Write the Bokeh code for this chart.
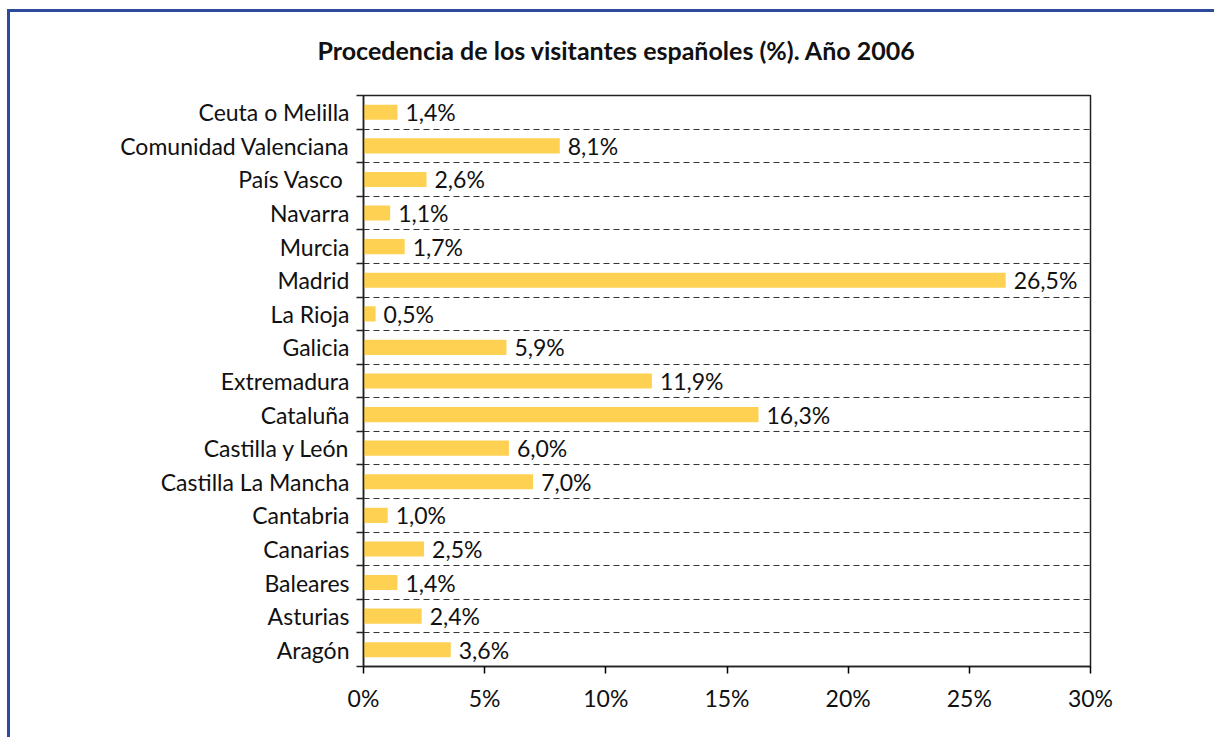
from bokeh.plotting import figure
from bokeh.models import FixedTicker, Range1d, ColumnDataSource, LabelSet, Title
from bokeh.core.properties import value
from bokeh.embed import file_html
from bokeh.resources import INLINE

regions = ["Aragón", "Asturias", "Baleares", "Canarias", "Cantabria",
           "Castilla La Mancha", "Castilla y León", "Cataluña", "Extremadura",
           "Galicia", "La Rioja", "Madrid", "Murcia", "Navarra", "País Vasco ",
           "Comunidad Valenciana", "Ceuta o Melilla"]
shares = [3.6, 2.4, 1.4, 2.5, 1.0, 7.0, 6.0, 16.3, 11.9, 5.9, 0.5, 26.5,
          1.7, 1.1, 2.6, 8.1, 1.4]
x_ticks = [0, 5, 10, 15, 20, 25, 30]
x_tick_labels = ["0%", "5%", "10%", "15%", "20%", "25%", "30%"]
title_text = "Procedencia de los visitantes españoles (%). Año 2006"

FONT = "Lato"
TXT = "#111111"
BLUE = "#2D4B9C"
n = len(regions)
pos = list(range(n))
labels = [f"{v:.1f}".replace(".", ",") + "%" for v in shares]

src = ColumnDataSource(dict(y=pos, v=shares, lab=labels))

bg = (f"linear-gradient({BLUE},{BLUE}) 7px 9px / 3px 100% no-repeat, "
      f"linear-gradient({BLUE},{BLUE}) 7px 9px / 100% 3px no-repeat")

p = figure(width=1214, height=737, output_backend="svg", toolbar_location=None,
           x_range=Range1d(0, 30), y_range=Range1d(-0.5, n - 0.5),
           min_border_left=363, min_border_right=124, min_border_top=95,
           min_border_bottom=71,
           styles={"background": bg, "background-color": "white"})

p.title = Title(text=title_text, align="left", offset=-46, standoff=62,
                text_font=FONT, text_font_size="25px", text_font_style="bold",
                text_color=TXT)

p.hbar(y="y", left=0, right="v", height=0.45, source=src,
       fill_color="#FFD152", line_color=None)

p.add_layout(LabelSet(x="v", y="y", text="lab", source=src, x_offset=8,
                      text_baseline="middle", text_font=value(FONT),
                      text_font_size="23px", text_color=TXT))

# x axis
p.xaxis.ticker = FixedTicker(ticks=x_ticks)
p.xaxis.major_label_overrides = {t: l for t, l in zip(x_ticks, x_tick_labels)}
p.xaxis.major_tick_in = 0
p.xaxis.major_tick_out = 7
p.xaxis.minor_tick_line_color = None
p.xaxis.major_label_standoff = 10
# y axis
p.yaxis.ticker = FixedTicker(ticks=pos, minor_ticks=[i - 0.5 for i in range(n + 1)])
p.yaxis.major_label_overrides = {i: r for i, r in zip(pos, regions)}
p.yaxis.major_tick_line_color = None
p.yaxis.minor_tick_in = 0
p.yaxis.minor_tick_out = 7
p.yaxis.minor_tick_line_color = "#222222"
p.yaxis.minor_tick_line_width = 1.5
p.yaxis.major_label_standoff = 7

for ax in (p.xaxis, p.yaxis):
    ax.axis_line_color = "#222222"
    ax.axis_line_width = 1.5
    ax.major_tick_line_width = 1.5
    ax.major_label_text_font = FONT
    ax.major_label_text_font_size = "23px"
    ax.major_label_text_color = TXT

p.xgrid.visible = False
p.ygrid.ticker = FixedTicker(ticks=[i + 0.5 for i in range(n - 1)])
p.ygrid.grid_line_color = "#333333"
p.ygrid.grid_line_dash = "6 4"
p.ygrid.grid_line_width = 1

p.outline_line_color = "#222222"
p.outline_line_width = 1.5
p.background_fill_color = "white"
p.border_fill_alpha = 0

open("out.html", "w").write(file_html(p, INLINE))
